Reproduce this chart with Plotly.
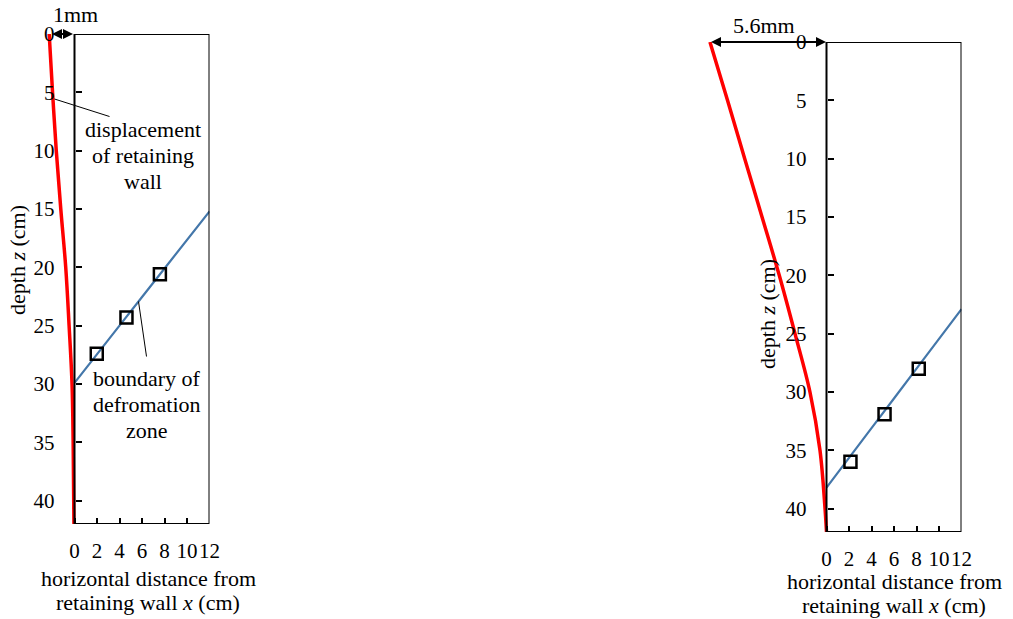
import plotly.graph_objects as go

W, H = 1013, 619

# ---------------- data ----------------
# left panel (1 mm displacement), wall displacement drawn in exaggerated x-units
wall_z_left = [0, 5, 10, 15, 20, 25, 30, 35, 42]
wall_x_left = [-2.25, -1.95, -1.62, -1.22, -0.78, -0.48, -0.22, -0.12, -0.05]
bound_x_left = [0, 4, 8, 12]
bound_z_left = [29.9, 25.0, 20.1, 15.2]
pts_x_left = [1.98, 4.62, 7.59]
pts_z_left = [27.4, 24.3, 20.6]

# right panel (5.6 mm displacement)
wall_z_right = [0, 5, 10, 15, 20, 25, 30, 35, 40, 42]
wall_x_right = [-10.36, -8.8, -7.27, -5.73, -4.2, -2.8, -1.47, -0.58, -0.13, 0]
bound_x_right = [0, 4, 8, 12]
bound_z_right = [38.2, 33.1, 28.0, 22.9]
pts_x_right = [2.13, 5.16, 8.2]
pts_z_right = [35.97, 31.9, 28.0]

x_ticks = [0, 2, 4, 6, 8, 10, 12]
x_tick_text = ["0", "2", "4", "6", "8", "10", "12"]
z_ticks = [0, 5, 10, 15, 20, 25, 30, 35, 40]
z_tick_text = ["0", "5", "10", "15", "20", "25", "30", "35", "40"]

# ---------------- layout helpers ----------------
def fx(px):
    return px / W

def fy(py):
    return 1 - py / H

SC = 11.25  # px per cm horizontally
FONT = "Liberation Serif, Times New Roman, serif"
RED = "#FF0000"
BLUE = "#4477AA"

fig = go.Figure()

panels = [
    dict(xa="x", ya="y", x0px=74.5, top=34, bot=524, xmin=-2.6,
         wx=wall_x_left, wz=wall_z_left, bx=bound_x_left, bz=bound_z_left,
         px_=pts_x_left, pz=pts_z_left),
    dict(xa="x2", ya="y2", x0px=826.5, top=42, bot=532, xmin=-11.0,
         wx=wall_x_right, wz=wall_z_right, bx=bound_x_right, bz=bound_z_right,
         px_=pts_x_right, pz=pts_z_right),
]

for i, p in enumerate(panels):
    fig.add_trace(go.Scatter(x=p["wx"], y=p["wz"], mode="lines",
                             line=dict(color=RED, width=3.5, shape="spline"),
                             xaxis=p["xa"], yaxis=p["ya"], showlegend=False))
    fig.add_trace(go.Scatter(x=p["bx"], y=p["bz"], mode="lines",
                             line=dict(color=BLUE, width=2.2, shape="spline"),
                             xaxis=p["xa"], yaxis=p["ya"], showlegend=False))
    fig.add_trace(go.Scatter(x=p["px_"], y=p["pz"], mode="markers",
                             marker=dict(symbol="square-open", size=12,
                                         color="black", line=dict(width=2.5, color="black")),
                             xaxis=p["xa"], yaxis=p["ya"], showlegend=False))
    # box
    fig.add_shape(type="rect", xref=p["xa"], yref=p["ya"], x0=0, x1=12, y0=0, y1=42,
                  line=dict(color="black", width=2))

    left_px = p["x0px"] + p["xmin"] * SC
    right_px = p["x0px"] + 12 * SC
    xkey = "xaxis" if i == 0 else "xaxis2"
    ykey = "yaxis" if i == 0 else "yaxis2"
    fig.update_layout(**{
        xkey: dict(domain=[fx(left_px), fx(right_px)], range=[p["xmin"], 12],
                   anchor=p["ya"], showgrid=False, zeroline=False, showline=False,
                   tickmode="array", tickvals=x_ticks, ticktext=x_tick_text,
                   ticks="inside", ticklen=6, tickwidth=2, tickcolor="black",
                   ticklabelstandoff=12, tickangle=0,
                   tickfont=dict(family=FONT, size=21, color="black"),
                   automargin=False, fixedrange=True),
        ykey: dict(domain=[fy(p["bot"]), fy(p["top"])], range=[42, 0],
                   anchor="free", position=fx(p["x0px"]), side="left",
                   showgrid=False, zeroline=False, showline=False,
                   tickmode="array", tickvals=z_ticks, ticktext=z_tick_text,
                   ticks="inside", ticklen=6, tickwidth=2, tickcolor="black",
                   ticklabelstandoff=20, tickangle=0,
                   tickfont=dict(family=FONT, size=21, color="black"),
                   automargin=False, fixedrange=True),
    })

ann = []
tf = dict(family=FONT, size=22, color="black")

def text(x, y, s, angle=0):
    ann.append(dict(x=fx(x), y=fy(y), xref="paper", yref="paper", text=s,
                    showarrow=False, font=tf, xanchor="center", yanchor="middle",
                    textangle=angle))

# axis titles
text(18, 260, "depth <i>z</i> (cm)", -90)
text(767, 314, "depth <i>z</i> (cm)", -90)
text(148, 578, "horizontal distance from")
text(148, 602, "retaining wall <i>x</i> (cm)")
text(894, 581, "horizontal distance from")
text(894, 605, "retaining wall <i>x</i> (cm)")

# callouts
text(143, 130, "displacement")
text(143, 156, "of retaining")
text(143, 181, "wall")
text(147, 378, "boundary of")
text(147, 404, "defromation")
text(147, 430, "zone")

# displacement labels
text(75, 15, "1mm")
text(764, 25, "5.6mm")

# double-headed arrows
for (xa, xb, yy) in [(50.5, 73.0, 34), (709.5, 826.0, 42)]:
    ann.append(dict(x=fx(xb), y=fy(yy), xref="paper", yref="paper",
                    ax=xa - xb, ay=0, axref="pixel", ayref="pixel", text="",
                    showarrow=True, arrowhead=2, arrowside="end+start",
                    arrowsize=1, arrowwidth=2, arrowcolor="black",
                    standoff=0, startstandoff=0))

fig.update_layout(annotations=ann)

# leader lines
for (x0, y0, x1, y1) in [(54.5, 99, 109.5, 116.5), (138.5, 301.5, 146.5, 356.5)]:
    fig.add_shape(type="line", xref="paper", yref="paper",
                  x0=fx(x0), y0=fy(y0), x1=fx(x1), y1=fy(y1),
                  line=dict(color="black", width=1))

fig.update_layout(width=W, height=H, margin=dict(l=0, r=0, t=0, b=0),
                  paper_bgcolor="white", plot_bgcolor="white",
                  font=dict(family=FONT, color="black"), showlegend=False)

fig.write_html("out.html")
